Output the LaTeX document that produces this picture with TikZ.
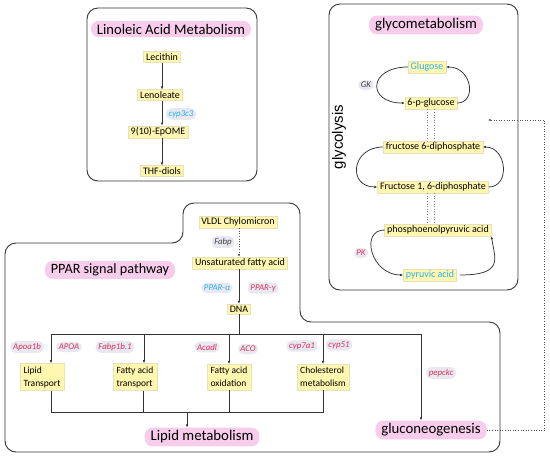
\documentclass[tikz,border=0pt]{standalone}
\usepackage{fontspec}
\setmainfont{Carlito}
\newfontfamily\arialfont{Liberation Sans}
\usepackage{xcolor}
\usepackage{tikz}
\usetikzlibrary{arrows.meta,positioning,calc}

\definecolor{molfill}{HTML}{FFF7B0}
\definecolor{molline}{HTML}{E6E1B8}
\definecolor{pinkfill}{HTML}{F7CDEB}
\definecolor{enzfill}{HTML}{E8E8F0}
\definecolor{enzred}{HTML}{E0305A}
\definecolor{enzblue}{HTML}{2AB0EE}
\definecolor{frameline}{HTML}{333333}

\begin{document}
\begin{tikzpicture}[
   x=1pt,y=-1pt,
   every node/.style={font=\fontsize{10}{12}\selectfont},
   mol/.style={draw=molline,line width=0.4pt,fill=molfill,inner xsep=2.5pt,inner ysep=1.8pt},
   molbox/.style={mol,align=left,inner xsep=3.5pt,inner ysep=3pt,font=\fontsize{9.5}{13}\selectfont},
   ttl/.style={fill=pinkfill,rounded corners=8pt,inner xsep=6pt,inner ysep=3pt,
               font=\fontsize{14.8}{16}\selectfont},
   enz/.style={fill=enzfill,rounded corners=5.5pt,inner xsep=2.8pt,inner ysep=2.2pt,
               text=enzred,font=\fontsize{8.8}{10}\selectfont\itshape},
   frame/.style={draw=frameline,line width=0.9pt,rounded corners=11pt},
   ln/.style={draw=frameline,line width=0.75pt},
   arr/.style={ln,-{Latex[length=3pt,width=2.6pt]}},
   dot/.style={draw=gray,line width=0.6pt,dotted}
]
\useasboundingbox (0,0) rectangle (550,456);

% linoleic acid metabolism
\draw[frame] (87,8) rectangle (257,181);
\node[ttl,font=\fontsize{14.6}{16}\selectfont] (T1) at (171,29) {Linoleic Acid Metabolism};
\node[mol] (lec) at (162,57) {Lecithin};
\node[mol] (lenol) at (160,95) {Lenoleate};
\node[mol] (epome) at (158,132) {9(10)-EpOME};
\node[mol] (thf) at (162,171) {THF-diols};
\node[enz,text=enzblue] (cyp3c3) at (181,114) {cyp3c3};
\draw[arr] (lec.south) -- (lec.south |- lenol.north);
\draw[arr] (lec.south |- lenol.south) -- (lec.south |- epome.north);
\draw[arr] (lec.south |- epome.south) -- (lec.south |- thf.north);

% glycometabolism
\draw[frame] (329,4) rectangle (518,290);
\node[ttl] (T2) at (426,25) {glycometabolism};
\node[rotate=90,font=\fontsize{15}{17}\arialfont] (glyc) at (339,137) {glycolysis};
\node[mol,text=enzblue] (glu) at (427,67) {Glugose};
\node[mol] (g6p) at (431,103) {6-p-glucose};
\node[mol] (f6p) at (433,147) {fructose 6-diphosphate};
\node[mol] (f16p) at (433,187) {Fructose 1, 6-diphosphate};
\node[mol] (pep) at (438,230) {phosphoenolpyruvic acid};
\node[mol,text=enzblue] (pyr) at (430,275) {pyruvic acid};
\node[enz,text=black!75] (GK) at (366,85) {GK};
\node[enz] (PK) at (361,253) {PK};
\coordinate (glyin) at (488,120);

\draw[arr] (glu.west) .. controls +(-40,0) and +(-38,0) .. (g6p.west);
\draw[arr] (g6p.east) .. controls +(20,0) and +(26,0) .. (glu.east);
\draw[arr] (f6p.west) .. controls +(-32,0) and +(-30,0) .. (f16p.west);
\draw[arr] (f16p.east) .. controls +(22,0) and +(24,0) .. (f6p.east);
\draw[arr] (pep.west) .. controls +(-25,0) and +(-32,0) .. (pyr.west);
\draw[arr] ([xshift=3pt]pyr.east) .. controls +(45,0) and +(3,22) .. (pep.south east);
\draw[dot] ([xshift=-3.5pt]g6p.south) -- ([xshift=-3.5pt]g6p.south |- f6p.north);
\draw[dot] ([xshift=3.5pt]g6p.south) -- ([xshift=3.5pt]g6p.south |- f6p.north);
\draw[dot] ([xshift=-3.5pt]g6p.south |- f16p.south) -- ([xshift=-3.5pt]g6p.south |- pep.north);
\draw[dot] ([xshift=3.5pt]g6p.south |- f16p.south) -- ([xshift=3.5pt]g6p.south |- pep.north);

% PPAR signal pathway
\draw[frame] (183,243) -- (183,203) -- (300,203) -- (300,322) -- (500,322)
   -- (500,452) -- (5,452) -- (5,243) -- cycle;
\node[ttl,font=\fontsize{14.2}{16}\selectfont] (T3) at (110,270) {PPAR signal pathway};
\node[mol] (vldl) at (238,222) {VLDL Chylomicron};
\node[enz,text=black!75] (fabp) at (223,242) {Fabp};
\node[mol] (ufa) at (240,263) {Unsaturated fatty acid};
\node[enz,text=enzblue] (ppara) at (217,288) {PPAR-α};
\node[enz] (pparg) at (263,288) {PPAR-γ};
\node[mol] (dna) at (239,309) {DNA};
\draw[dot,draw=black!70,-{Latex[length=2.5pt,width=2.4pt]}] (vldl.south -| dna) -- (ufa.north -| dna);
\draw[arr] (ufa.south -| dna) -- (dna.north);

% branches
\coordinate (busL) at (51,334);
\coordinate (busR) at (421,334);
\node[enz] (apoa1b) at (27,347) {Apoa1b};
\node[enz] (apoa) at (69,347) {APOA};
\node[enz] (fabp1b) at (115,347) {Fabp1b.1};
\node[enz] (acadl) at (207,347) {Acadl};
\node[enz] (aco) at (248,349) {ACO};
\node[enz] (cyp7a1) at (302,346) {cyp7a1};
\node[enz] (cyp51) at (339,345) {cyp51};
\node[enz] (pepckc) at (441,373) {pepckc};
\node[molbox] (lt) at (42,377) {Lipid\\Transport};
\node[molbox] (fat) at (135,377) {Fatty acid\\transport};
\node[molbox] (fao) at (229,377) {Fatty acid\\oxidation};
\node[molbox] (chol) at (323,377) {Cholesterol\\metabolism};
\node[ttl] (lipid) at (202,437) {Lipid metabolism};
\node[ttl] (gluco) at (431,430) {gluconeogenesis};

\draw[ln] (dna.south) -- (dna |- busL);
\draw[ln] (busL) -- (busR);
\draw[arr] (busL) -- (busL |- lt.north);
\draw[arr] (144,334) -- (144,0 |- fat.north);
\draw[arr] (fao |- busL) -- (fao.north);
\draw[arr] (chol |- busL) -- (chol.north);
\draw[arr] (busR) -- (busR |- gluco.north);

\coordinate (lowL) at (51,412);
\coordinate (lowR) at (323,412);
\draw[ln] (lowL |- lt.south) -- (lowL) -- (lowR) -- (lowR |- chol.south);
\draw[ln] (143,0 |- fat.south) -- (143,412);
\draw[ln] (fao.south) -- (fao |- lowL);
\draw[arr] (187,412) -- (187,0 |- lipid.north);

% link to glycolysis
\draw[dot,draw=black!70,line width=0.8pt,-{Latex[length=2.5pt,width=2.4pt]}]
   (gluco.east) -- ++(58,0) |- (glyin);

\end{tikzpicture}
\end{document}
